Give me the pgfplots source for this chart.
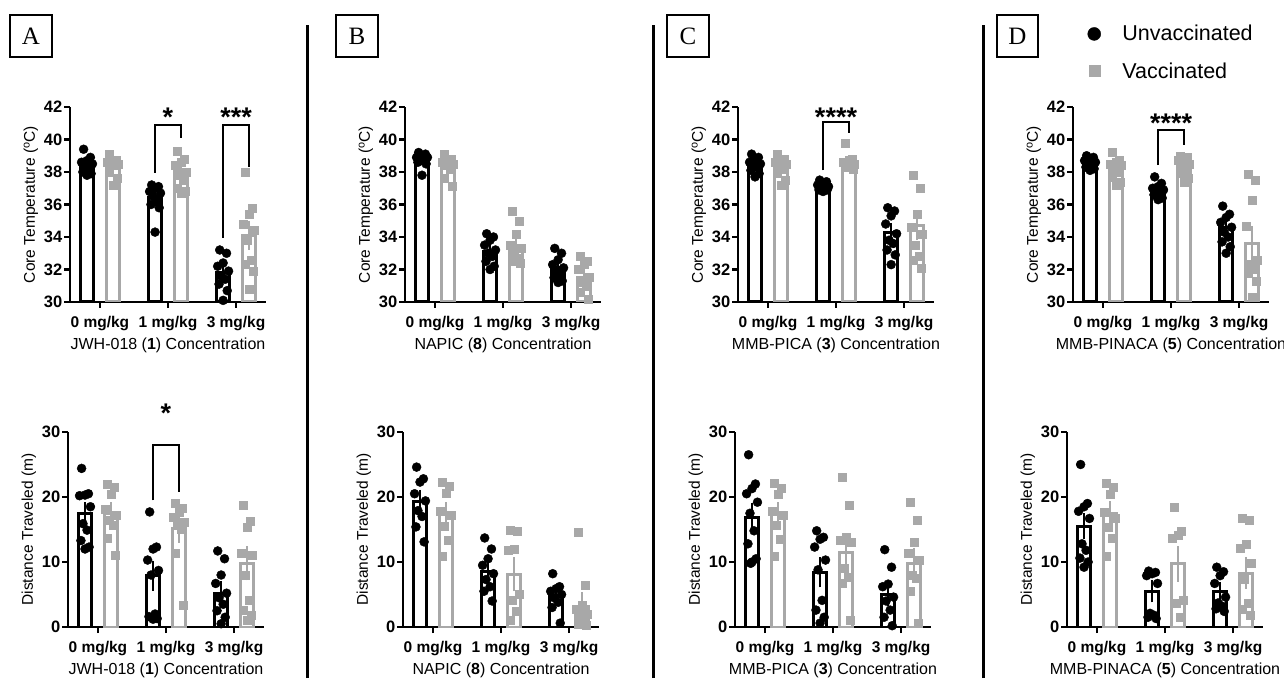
\documentclass[border=0pt]{standalone}
\usepackage{fontspec}
\setmainfont{Liberation Sans}
\newfontfamily\seriffont{Liberation Serif}
\usepackage{pgfplots}
\pgfplotsset{compat=1.18}
\definecolor{vgray}{RGB}{168,168,168}
\pgfplotsset{
 panel/.style={
  scale only axis, width=196pt, height=195pt,
  axis lines*=left, axis line style={line width=2.5pt,-},
  xmin=-0.44, xmax=2.44, xtick={0,1,2}, xticklabels={0 mg/kg,1 mg/kg,3 mg/kg},
  tick align=outside, major tick length=6pt, tick style={line width=2.5pt,black},
  xticklabel style={font=\fontsize{15.5}{15.5}\selectfont\bfseries, inner sep=0pt, yshift=-8pt},
  yticklabel style={font=\fontsize{16.5}{16.5}\selectfont\bfseries, inner sep=1.5pt},
  /pgf/number format/assume math mode=true,
  every axis x label/.style={at={(axis description cs:0.5,-0.22)}, anchor=center, font=\fontsize{16}{16}\selectfont},
  every axis y label/.style={at={(axis description cs:-0.2,0.5)}, rotate=90, anchor=center, font=\fontsize{15.5}{16}\selectfont},
  clip mode=individual,
 },
 top/.style={ymin=30, ymax=42, ytick={30,32,34,36,38,40,42}, ylabel={Core Temperature (\textsuperscript{o}C)}},
 bot/.style={ymin=0, ymax=30, ytick={0,10,20,30}, ylabel={Distance Traveled (m)}},
 ubar/.style={ybar, bar width=0.2, bar shift=0pt, draw=black, fill=white, line width=3pt, forget plot,
   error bars/.cd, y dir=both, y explicit, error bar style={line width=1.5pt,black}, error mark options={line width=1.5pt,black,mark size=4pt}},
 vbar/.style={ybar, bar width=0.2, bar shift=0pt, draw=vgray, fill=white, line width=3pt, forget plot,
   error bars/.cd, y dir=both, y explicit, error bar style={line width=1.5pt,vgray}, error mark options={line width=1.5pt,vgray,mark size=4pt}},
 upts/.style={only marks, mark=*, mark size=4.5pt, black, mark options={draw=black,fill=black}},
 vpts/.style={only marks, mark=square*, mark size=4pt, color=vgray, mark options={draw=vgray,fill=vgray}},
 legimgU/.style={legend image code/.code={\path[opacity=0] (-8pt,-7pt) rectangle (26pt,7pt); \draw[##1,mark size=6.5pt] plot coordinates {(0pt,0pt)};}},
 legimgV/.style={legend image code/.code={\path[opacity=0] (-8pt,-7pt) rectangle (26pt,7pt); \draw[##1,mark size=5.5pt] plot coordinates {(0pt,0pt)};}},
}
\tikzset{brk/.style={line width=2pt,black}, star/.style={font=\fontsize{27}{27}\selectfont\bfseries, anchor=base, inner sep=0pt}}
\begin{document}
\begin{tikzpicture}
\useasboundingbox (0,0) rectangle (1284pt,678pt);
% separators and panel letters
\draw[line width=3pt] (307pt,0pt) -- (307pt,653pt);
\draw[line width=3pt] (653pt,0pt) -- (653pt,653pt);
\draw[line width=3pt] (983pt,0pt) -- (983pt,653pt);
\draw[line width=1.8pt] (10pt,621pt) rectangle (52pt,663pt); \node[font=\seriffont\fontsize{25}{25}\selectfont] at (31pt,642pt) {A};
\draw[line width=1.8pt] (336pt,621pt) rectangle (378pt,663pt); \node[font=\seriffont\fontsize{25}{25}\selectfont] at (357pt,642pt) {B};
\draw[line width=1.8pt] (667pt,621pt) rectangle (709pt,663pt); \node[font=\seriffont\fontsize{25}{25}\selectfont] at (688pt,642pt) {C};
\draw[line width=1.8pt] (997pt,621pt) rectangle (1038pt,663pt); \node[font=\seriffont\fontsize{25}{25}\selectfont] at (1017.5pt,642pt) {D};

%================ A top
\begin{axis}[panel, top, at={(70pt,376pt)}, anchor=south west, xlabel={JWH-018 (\textbf{1}) Concentration}]
\addplot[ubar] coordinates {(-0.19,38.4) +- (0,0.17) (0.81,36.4) +- (0,0.27) (1.81,31.8) +- (0,0.3)};
\addplot[vbar] coordinates {(0.19,38.5) +- (0,0.18) (1.19,38.1) +- (0,0.27) (2.19,34.1) +- (0,0.65)};
\addplot[upts] coordinates {
(-0.24,39.4) (-0.14,38.9) (-0.19,38.7) (-0.27,38.6) (-0.11,38.5) (-0.22,38.4) (-0.16,38.2) (-0.25,38.0) (-0.13,37.9) (-0.19,37.8)
(0.76,37.2) (0.86,37.1) (0.81,37.0) (0.73,36.8) (0.89,36.7) (0.78,36.5) (0.84,36.2) (0.75,36.0) (0.87,35.8) (0.81,34.3)
(1.76,33.2) (1.86,33.0) (1.81,32.4) (1.73,32.2) (1.89,31.9) (1.78,31.6) (1.84,31.4) (1.75,31.1) (1.87,30.7) (1.81,30.1)};
\addplot[vpts] coordinates {
(0.14,39.1) (0.24,38.7) (0.19,38.6) (0.11,38.6) (0.27,38.5) (0.16,38.5) (0.22,38.4) (0.13,38.0) (0.25,37.6) (0.19,37.2)
(1.14,39.3) (1.24,38.8) (1.19,38.6) (1.11,38.4) (1.27,38.0) (1.16,37.8) (1.22,37.5) (1.13,37.0) (1.25,36.8) (1.19,36.7)
(2.14,38.0) (2.24,35.8) (2.19,35.4) (2.11,34.8) (2.27,34.4) (2.16,33.8) (2.22,32.6) (2.13,32.3) (2.25,31.9) (2.19,30.8)};
\draw[brk] (axis cs:0.81,37.94) -- (axis cs:0.81,40.9) -- (axis cs:1.19,40.9) -- (axis cs:1.19,40.09);
\node[star] at (axis cs:1,40.77) {*};
\draw[brk] (axis cs:1.81,33.94) -- (axis cs:1.81,40.9) -- (axis cs:2.19,40.9) -- (axis cs:2.19,38.3);
\node[star] at (axis cs:2,40.77) {***};
\end{axis}

%================ A bottom
\begin{axis}[panel, bot, at={(68pt,51pt)}, anchor=south west, xlabel={JWH-018 (\textbf{1}) Concentration}]
\addplot[ubar] coordinates {(-0.19,17.4) +- (0,1.2) (0.81,7.9) +- (0,1.7) (1.81,5.2) +- (0,1.3)};
\addplot[vbar] coordinates {(0.19,17.4) +- (0,1.2) (1.19,15.2) +- (0,1.6) (2.19,9.8) +- (0,2.0)};
\addplot[upts] coordinates {
(-0.24,24.4) (-0.14,20.5) (-0.19,20.3) (-0.27,20.2) (-0.11,18.5) (-0.22,15.9) (-0.16,14.9) (-0.25,13.3) (-0.13,12.3) (-0.19,12.0)
(0.76,17.7) (0.86,12.3) (0.81,12.0) (0.73,10.3) (0.89,8.7) (0.78,8.0) (0.84,2.0) (0.75,1.6) (0.87,1.3) (0.81,1.2)
(1.76,11.7) (1.86,10.5) (1.81,8.0) (1.73,6.7) (1.89,5.2) (1.78,4.5) (1.84,3.5) (1.75,2.5) (1.87,1.5) (1.81,0.5)};
\addplot[vpts] coordinates {
(0.14,22.0) (0.24,21.5) (0.19,20.5) (0.11,18.2) (0.27,17.2) (0.16,16.4) (0.22,15.6) (0.13,13.6) (0.25,11.0)
(1.14,19.0) (1.24,18.3) (1.19,17.6) (1.11,16.9) (1.27,16.2) (1.16,15.6) (1.22,15.0) (1.13,11.3) (1.25,3.3)
(2.14,18.7) (2.24,16.3) (2.19,15.3) (2.11,11.3) (2.27,11.0) (2.16,8.0) (2.22,4.1) (2.13,2.6) (2.25,1.8) (2.19,1.0)};
\draw[brk] (axis cs:0.81,19.5) -- (axis cs:0.81,28) -- (axis cs:1.19,28) -- (axis cs:1.19,20.8);
\node[star] at (axis cs:1,31.4) {*};
\end{axis}

%================ B top
\begin{axis}[panel, top, at={(405pt,376pt)}, anchor=south west, xlabel={NAPIC (\textbf{8}) Concentration}]
\addplot[ubar] coordinates {(-0.19,38.8) +- (0,0.12) (0.81,33.1) +- (0,0.25) (1.81,32.1) +- (0,0.2)};
\addplot[vbar] coordinates {(0.19,38.6) +- (0,0.2) (1.19,33.5) +- (0,0.35) (2.19,31.5) +- (0,0.3)};
\addplot[upts] coordinates {
(-0.24,39.2) (-0.14,39.1) (-0.19,39.0) (-0.27,38.9) (-0.11,38.9) (-0.22,38.8) (-0.16,38.7) (-0.25,38.6) (-0.13,38.5) (-0.19,37.8)
(0.76,34.2) (0.86,34.0) (0.81,33.8) (0.73,33.5) (0.89,33.2) (0.78,33.0) (0.84,32.8) (0.75,32.5) (0.87,32.2) (0.81,32.0)
(1.76,33.3) (1.86,33.0) (1.81,32.6) (1.73,32.3) (1.89,32.1) (1.78,31.9) (1.84,31.7) (1.75,31.5) (1.87,31.3) (1.81,31.2)};
\addplot[vpts] coordinates {
(0.14,39.1) (0.24,38.8) (0.19,38.7) (0.11,38.6) (0.27,38.5) (0.16,38.4) (0.22,38.2) (0.13,37.6) (0.25,37.1)
(1.14,35.6) (1.24,35.0) (1.19,34.2) (1.11,33.5) (1.27,33.3) (1.16,33.0) (1.22,32.7) (1.13,32.5) (1.25,32.4)
(2.14,32.8) (2.24,32.5) (2.19,32.3) (2.11,32.0) (2.27,31.5) (2.16,31.2) (2.22,31.0) (2.13,30.6) (2.25,30.2)};
\end{axis}

%================ B bottom
\begin{axis}[panel, bot, at={(403pt,51pt)}, anchor=south west, xlabel={NAPIC (\textbf{8}) Concentration}]
\addplot[ubar] coordinates {(-0.19,19.3) +- (0,1.2) (0.81,8.5) +- (0,1.0) (1.81,4.8) +- (0,0.7)};
\addplot[vbar] coordinates {(0.19,17.3) +- (0,1.3) (1.19,8.1) +- (0,2.0) (2.19,3.2) +- (0,1.5)};
\addplot[upts] coordinates {
(-0.24,24.6) (-0.14,22.8) (-0.19,22.3) (-0.27,20.5) (-0.11,19.4) (-0.22,17.9) (-0.16,17.0) (-0.25,15.4) (-0.13,13.1)
(0.76,13.7) (0.86,12.0) (0.81,10.5) (0.73,9.5) (0.89,8.2) (0.78,7.3) (0.84,6.2) (0.75,5.5) (0.87,4.0)
(1.76,8.2) (1.86,6.2) (1.81,5.9) (1.73,5.5) (1.89,5.0) (1.78,4.5) (1.84,3.8) (1.75,3.0) (1.87,0.6)};
\addplot[vpts] coordinates {
(0.14,22.3) (0.24,21.6) (0.19,20.6) (0.11,17.8) (0.27,17.2) (0.16,15.5) (0.22,13.4) (0.13,10.9)
(1.14,14.9) (1.24,14.7) (1.19,12.0) (1.11,11.8) (1.27,5.1) (1.16,4.1) (1.22,2.5) (1.13,1.0)
(2.14,14.6) (2.24,6.4) (2.19,3.3) (2.11,2.8) (2.27,2.0) (2.16,1.3) (2.22,0.8) (2.13,0.5) (2.25,0.3)};
\end{axis}

%================ C top
\begin{axis}[panel, top, at={(738pt,376pt)}, anchor=south west, xlabel={MMB-PICA (\textbf{3}) Concentration}]
\addplot[ubar] coordinates {(-0.19,38.5) +- (0,0.14) (0.81,37.1) +- (0,0.07) (1.81,34.25) +- (0,0.35)};
\addplot[vbar] coordinates {(0.19,38.55) +- (0,0.18) (1.19,38.6) +- (0,0.15) (2.19,34.7) +- (0,0.65)};
\addplot[upts] coordinates {
(-0.24,39.1) (-0.14,38.9) (-0.19,38.8) (-0.27,38.6) (-0.11,38.5) (-0.22,38.4) (-0.16,38.3) (-0.25,38.1) (-0.13,37.9) (-0.19,37.7)
(0.76,37.5) (0.86,37.4) (0.81,37.3) (0.73,37.2) (0.89,37.1) (0.78,37.1) (0.84,37.0) (0.75,36.9) (0.87,36.9) (0.81,36.8)
(1.76,35.8) (1.86,35.6) (1.81,35.3) (1.73,34.8) (1.89,34.2) (1.78,33.8) (1.84,33.6) (1.75,33.2) (1.87,32.9) (1.81,32.3)};
\addplot[vpts] coordinates {
(0.14,39.1) (0.24,38.8) (0.19,38.7) (0.11,38.6) (0.27,38.5) (0.16,38.4) (0.22,38.2) (0.13,37.9) (0.25,37.5) (0.19,37.2)
(1.14,39.8) (1.24,38.8) (1.19,38.7) (1.11,38.6) (1.27,38.5) (1.16,38.5) (1.22,38.4) (1.13,38.3) (1.25,38.2)
(2.14,37.8) (2.24,37.0) (2.19,35.4) (2.11,34.6) (2.27,34.2) (2.16,33.5) (2.22,32.8) (2.13,32.6) (2.25,32.1)};
\draw[brk] (axis cs:0.81,38.1) -- (axis cs:0.81,41.1) -- (axis cs:1.19,41.1) -- (axis cs:1.19,40.4);
\node[star] at (axis cs:1,40.83) {****};
\end{axis}

%================ C bottom
\begin{axis}[panel, bot, at={(735pt,51pt)}, anchor=south west, xlabel={MMB-PICA (\textbf{3}) Concentration}]
\addplot[ubar] coordinates {(-0.19,16.9) +- (0,1.5) (0.81,8.4) +- (0,1.7) (1.81,5.0) +- (0,1.2)};
\addplot[vbar] coordinates {(0.19,17.3) +- (0,1.3) (1.19,11.5) +- (0,2.2) (2.19,9.7) +- (0,1.9)};
\addplot[upts] coordinates {
(-0.24,26.5) (-0.14,22.0) (-0.19,21.3) (-0.27,20.5) (-0.11,19.2) (-0.22,17.5) (-0.16,14.8) (-0.25,12.8) (-0.13,10.5) (-0.19,10.0) (-0.21,9.8)
(0.76,14.8) (0.86,13.8) (0.81,13.5) (0.73,12.3) (0.89,10.3) (0.78,8.8) (0.84,4.1) (0.75,2.6) (0.87,1.5) (0.81,0.6)
(1.76,11.9) (1.86,9.2) (1.81,6.6) (1.73,6.2) (1.89,4.6) (1.78,4.0) (1.84,2.6) (1.75,1.5) (1.87,0.2)};
\addplot[vpts] coordinates {
(0.14,22.1) (0.24,21.4) (0.19,20.4) (0.11,17.8) (0.27,17.2) (0.16,15.6) (0.22,13.5) (0.13,10.9)
(1.14,23.0) (1.24,18.7) (1.19,13.8) (1.11,13.4) (1.27,13.1) (1.16,9.0) (1.22,7.7) (1.13,6.7) (1.25,1.1)
(2.14,19.2) (2.24,16.4) (2.19,13.1) (2.11,11.3) (2.27,10.3) (2.16,7.9) (2.22,7.5) (2.13,5.5) (2.25,0.6)};
\end{axis}

%================ D top
\begin{axis}[panel, top, at={(1073pt,376pt)}, anchor=south west, xlabel={MMB-PINACA (\textbf{5}) Concentration},
  legend style={at={(0.05,1.44)}, anchor=north west, draw=none, fill=none, font=\fontsize{21.5}{24}\selectfont, row sep=16pt}, legend cell align=left]
\addplot[ubar] coordinates {(-0.19,38.7) +- (0,0.1) (0.81,36.9) +- (0,0.13) (1.81,34.6) +- (0,0.3)};
\addplot[vbar] coordinates {(0.19,38.6) +- (0,0.2) (1.19,38.7) +- (0,0.17) (2.19,33.6) +- (0,0.8)};
\addplot[upts, legimgU] coordinates {
(-0.24,39.0) (-0.14,38.9) (-0.19,38.8) (-0.27,38.7) (-0.11,38.6) (-0.22,38.5) (-0.16,38.4) (-0.25,38.3) (-0.13,38.2) (-0.19,38.1)
(0.76,37.7) (0.86,37.3) (0.81,37.1) (0.73,37.0) (0.89,36.9) (0.78,36.8) (0.84,36.7) (0.75,36.6) (0.87,36.4) (0.81,36.3)
(1.76,35.9) (1.86,35.4) (1.81,35.2) (1.73,34.9) (1.89,34.6) (1.78,34.3) (1.84,34.0) (1.75,33.7) (1.87,33.4) (1.81,33.0)};
\addlegendentry{Unvaccinated}
\addplot[vpts, legimgV] coordinates {
(0.14,39.2) (0.24,38.7) (0.19,38.6) (0.11,38.5) (0.27,38.4) (0.16,38.2) (0.22,38.0) (0.13,37.7) (0.25,37.4) (0.19,37.2)
(1.14,39.0) (1.24,38.9) (1.19,38.8) (1.11,38.7) (1.27,38.5) (1.16,38.3) (1.22,38.1) (1.13,37.9) (1.25,37.6) (1.19,37.4)
(2.14,37.85) (2.24,37.5) (2.19,36.25) (2.11,34.65) (2.27,32.6) (2.16,32.3) (2.22,32.0) (2.13,31.8) (2.25,31.3) (2.19,30.3)};
\addlegendentry{Vaccinated}
\draw[brk] (axis cs:0.81,38.43) -- (axis cs:0.81,40.58) -- (axis cs:1.19,40.58) -- (axis cs:1.19,39.66);
\node[star] at (axis cs:1,40.4) {****};
\end{axis}

%================ D bottom
\begin{axis}[panel, bot, at={(1067pt,51pt)}, anchor=south west, xlabel={MMB-PINACA (\textbf{5}) Concentration}]
\addplot[ubar] coordinates {(-0.19,15.5) +- (0,1.4) (0.81,5.5) +- (0,1.1) (1.81,5.5) +- (0,0.8)};
\addplot[vbar] coordinates {(0.19,17.4) +- (0,1.3) (1.19,9.7) +- (0,2.1) (2.19,8.3) +- (0,1.8)};
\addplot[upts] coordinates {
(-0.24,25.0) (-0.14,19.0) (-0.19,18.5) (-0.27,17.8) (-0.11,16.7) (-0.22,12.8) (-0.16,11.8) (-0.25,10.6) (-0.13,10.0) (-0.19,9.2)
(0.76,8.6) (0.86,8.4) (0.81,8.2) (0.73,7.9) (0.89,6.7) (0.78,2.1) (0.84,1.8) (0.75,1.5) (0.87,1.3)
(1.76,9.2) (1.86,8.5) (1.81,7.9) (1.73,6.7) (1.89,4.6) (1.78,3.7) (1.84,3.2) (1.75,2.8) (1.87,2.4)};
\addplot[vpts] coordinates {
(0.14,22.1) (0.24,21.5) (0.19,20.5) (0.11,17.7) (0.27,16.7) (0.16,15.4) (0.22,13.6) (0.13,10.9)
(1.14,18.5) (1.24,14.8) (1.19,14.1) (1.11,13.6) (1.27,4.1) (1.16,3.6) (1.22,1.5)
(2.14,16.8) (2.24,16.5) (2.19,12.8) (2.11,12.1) (2.27,9.8) (2.16,7.4) (2.22,3.6) (2.13,2.8) (2.25,1.8)};
\end{axis}
\end{tikzpicture}
\end{document}
